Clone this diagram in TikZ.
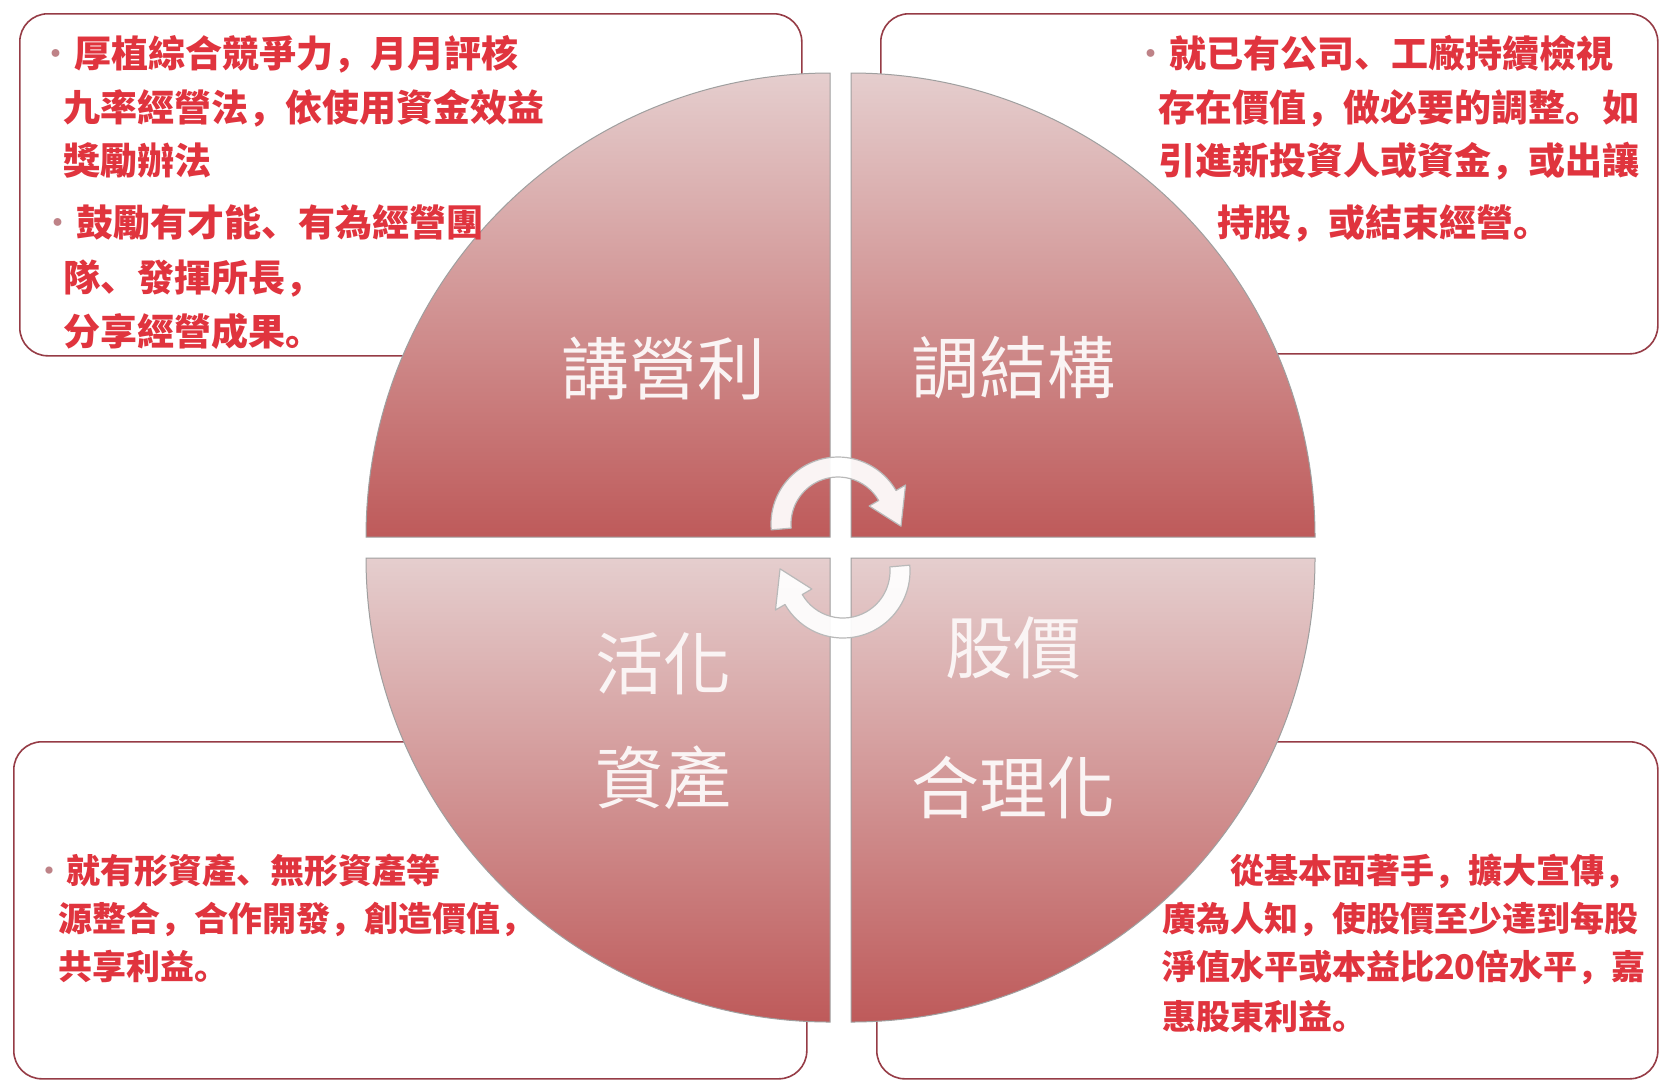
\documentclass[tikz,border=0pt]{standalone}
\usepackage{fontspec}
\newfontfamily\redfont{Noto Sans CJK SC}
\newfontfamily\labfont{Noto Sans CJK TC}
\usetikzlibrary{calc}
\definecolor{boxred}{RGB}{150,60,70}
\definecolor{txtred}{RGB}{224,52,62}
\definecolor{bulcol}{RGB}{190,130,135}
\definecolor{qlight}{RGB}{229,206,206}
\definecolor{qdark}{RGB}{190,90,90}
\definecolor{labwhite}{RGB}{250,244,244}
\newcommand{\bul}{{\mdseries\color{bulcol}・}}
\tikzset{
  infobox/.style={draw=boxred, line width=1.6pt, fill=white, rounded corners=28pt, anchor=north west, inner sep=0pt},
  redtxt/.style={font=\redfont\bfseries\fontsize{37}{37}\selectfont, text=txtred, anchor=base west, inner sep=0pt},
  redtxts/.style={font=\redfont\bfseries\fontsize{34}{34}\selectfont, text=txtred, anchor=base west, inner sep=0pt},
  quad/.style={top color=qlight, bottom color=qdark, draw=gray!75, line width=1pt},
  lab/.style={font=\labfont\fontsize{68}{68}\selectfont, text=labwhite, inner sep=0pt},
  cyc/.style={fill=white, fill opacity=0.93, draw=gray!55, line width=1.2pt, line join=round}
}
\begin{document}
\begin{tikzpicture}[x=1pt,y=-1pt]
\useasboundingbox (0,0) rectangle (1659,1080);
\fill[white] (0,0) rectangle (1659,1080);

% text boxes
\node[infobox, minimum width=782pt, minimum height=342pt] (tlbox) at (19,13) {};
\node[infobox, minimum width=777pt, minimum height=340pt] (trbox) at (880,13) {};
\node[infobox, minimum width=793pt, minimum height=337pt] (blbox) at (13,741) {};
\node[infobox, minimum width=781pt, minimum height=337pt] (brbox) at (876,741) {};

% quadrants
\path[quad] (830,537) -- (366,537) arc[start angle=180, end angle=270, radius=464] -- cycle;
\path[quad] (851,537) -- (851,73) arc[start angle=270, end angle=360, radius=464] -- cycle;
\path[quad] (830,558) -- (830,1022) arc[start angle=90, end angle=180, radius=464] -- cycle;
\path[quad] (851,558) -- (1315,558) arc[start angle=0, end angle=90, radius=464] -- cycle;

% labels
\node[lab] (l1) at (663,368) {講營利};
\node[lab] (l2) at (1013,368) {調結構};
\node[lab] (l3a) at (663,664) {活化};
\node[lab] (l3b) at (663,778) {資產};
\node[lab] (l4a) at (1013,648) {股價};
\node[lab] (l4b) at (1013,788) {合理化};

% circular arrows
\coordinate (c1) at (838,524);
\coordinate (c2) at (843,571);
\draw[cyc] ($(c1)+(175:67)$) arc[start angle=175, end angle=330, radius=67]
  -- ($(c1)+(330:78)$) -- ($(c1)+(2:63)$) -- ($(c1)+(330:36)$) -- ($(c1)+(330:47)$)
  arc[start angle=330, end angle=175, radius=47] -- cycle;
\draw[cyc] ($(c2)+(355:67)$) arc[start angle=355, end angle=510, radius=67]
  -- ($(c2)+(150:78)$) -- ($(c2)+(182:63)$) -- ($(c2)+(150:36)$) -- ($(c2)+(150:47)$)
  arc[start angle=510, end angle=355, radius=47] -- cycle;

% top-left text
\node[redtxt] (tl1) at (37,67) {\bul 厚植綜合競爭力，月月評核};
\node[redtxt] (tl2) at (63,121) {九率經營法，依使用資金效益};
\node[redtxt] (tl3) at (63,174) {獎勵辦法};
\node[redtxt] (tl4) at (39,236) {\bul 鼓勵有才能、有為經營團};
\node[redtxt] (tl5) at (63,291) {隊、發揮所長，};
\node[redtxt] (tl6) at (63,345) {分享經營成果。};

% top-right text
\node[redtxt] (tr1) at (1132,67) {\bul 就已有公司、工廠持續檢視};
\node[redtxt] (tr2) at (1158,121) {存在價值，做必要的調整。如};
\node[redtxt] (tr3) at (1158,174) {引進新投資人或資金，或出讓};
\node[redtxt] (tr4) at (1217,236) {持股，或結束經營。};

% bottom-left text
\node[redtxts] (bl1) at (32,883) {\bul 就有形資產、無形資產等};
\node[redtxts] (bl2) at (58,931) {源整合，合作開發，創造價值，};
\node[redtxts] (bl3) at (58,979) {共享利益。};

% bottom-right text
\node[redtxts] (br1) at (1230,883) {從基本面著手，擴大宣傳，};
\node[redtxts] (br2) at (1162,931) {廣為人知，使股價至少達到每股};
\node[redtxts] (br3) at (1162,979) {淨值水平或本益比20倍水平，嘉};
\node[redtxts] (br4) at (1162,1029) {惠股東利益。};
\end{tikzpicture}
\end{document}
